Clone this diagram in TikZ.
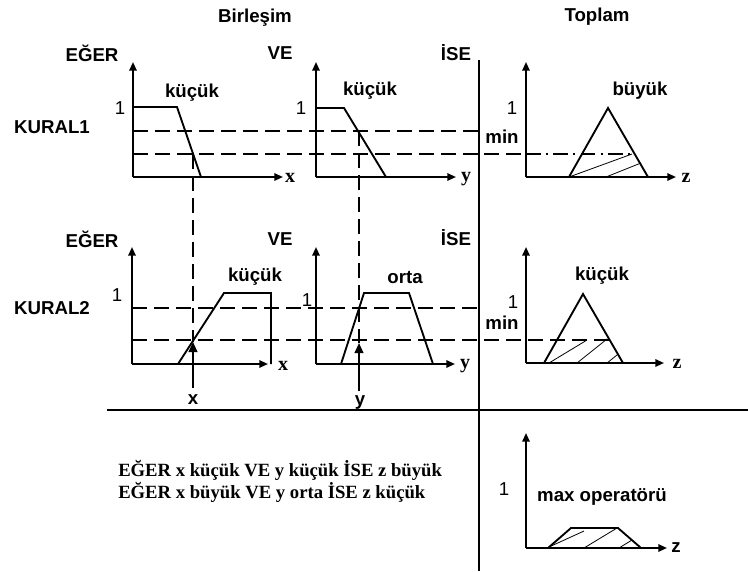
\documentclass[tikz,border=0pt]{standalone}
\usepackage{fontspec}
\setmainfont{Liberation Serif}
\setsansfont{Liberation Sans}
\usetikzlibrary{arrows.meta}
\begin{document}
\begin{tikzpicture}[x=0.75pt,y=-0.75pt,
  axis/.style={line width=1.4pt,-{Triangle[length=6.5pt,width=5.5pt]}},
  varrow/.style={line width=1.4pt,-{Triangle[length=7.5pt,width=6.5pt]}},
  curve/.style={line width=1.4pt, line join=miter},
  dsh/.style={line width=1.3pt, dash pattern=on 11pt off 5.5pt},
  dshdot/.style={line width=1.3pt, dash pattern=on 11pt off 4pt on 1.5pt off 4pt},
  sep/.style={line width=1.5pt},
  hatch/.style={line width=0.6pt},
  lbl/.style={font=\fontsize{14}{16}\selectfont\sffamily\bfseries, inner sep=0pt},
  one/.style={font=\fontsize{14}{16}\selectfont\sffamily, inner sep=0pt},
  ax/.style={font=\fontsize{15}{17}\selectfont\rmfamily\bfseries, inner sep=0pt}
]
\useasboundingbox[fill=white] (0,0) rectangle (748,571);

% headings
\node[lbl] (birlesim) at (255,18) {Birleşim};
\node[lbl] (toplam) at (597,17) {Toplam};
\node[lbl] (eger1) at (92,53) {EĞER};
\node[lbl] (ve1) at (280,53) {VE};
\node[lbl] (ise1) at (456,53) {İSE};
\node[lbl] (kural1) at (52,127) {KURAL1};
\node[lbl] (eger2) at (92,239) {EĞER};
\node[lbl] (ve2) at (280,239) {VE};
\node[lbl] (ise2) at (456,238) {İSE};
\node[lbl] (kural2) at (52,308) {KURAL2};

% separators
\draw[sep] (479,60) -- (479,571);
\draw[sep] (107,410) -- (748,410);

% ---------- Rule 1 ----------
\draw[dsh] (133,131) -- (478,131);
\draw[dsh] (133,154) -- (478,154);
\draw[dsh] (484,154) -- (526,154);
\draw[dshdot] (526,154) -- (634,154);

% x chart
\coordinate (o1) at (133,177);
\draw[axis] (o1) -- (133,62);
\draw[axis] (o1) -- (283,177);
\node[ax] (x1) at (290,178) {x};
\draw[curve] (133,107) -- (177,107) -- (201,177);
\node[lbl] (kucuk1) at (192,93) {küçük};
\node[one] (one1) at (120,108) {1};

% y chart
\coordinate (o2) at (316,177);
\draw[axis] (o2) -- (316,62);
\draw[axis] (o2) -- (456,177);
\node[ax] (y1) at (466,179) {y};
\draw[curve] (316,108) -- (344,108) -- (386,177);
\node[lbl] (kucuk2) at (370,91) {küçük};
\node[one] (one2) at (301,108) {1};

% z chart
\coordinate (o3) at (526,177);
\draw[axis] (o3) -- (526,62);
\draw[axis] (o3) -- (676,177);
\node[ax] (z1) at (686,178) {z};
\draw[curve] (569,177) -- (608,108) -- (648,177);
\draw[hatch] (569,177) -- (632,154);
\draw[hatch] (606,177) -- (641,163);
\node[lbl] (buyuk1) at (640,91) {büyük};
\node[one] (one3) at (512,108) {1};
\node[lbl] (min1) at (502,137) {min};

% ---------- Rule 2 ----------
\draw[dsh] (132,308) -- (478,308);
\draw[dsh] (132,340) -- (478,340);
\draw[dsh] (484,340) -- (610,340);

% x chart
\coordinate (o4) at (132,364);
\draw[axis] (o4) -- (132,247);
\draw[axis] (o4) -- (268,364);
\node[ax] (x2) at (283,366) {x};
\draw[curve] (178,364) -- (224,293) -- (271,293) -- (271,364);
\node[lbl] (kucuk3) at (255,277) {küçük};
\node[one] (one4) at (117,295) {1};

% y chart
\coordinate (o5) at (316,364);
\draw[axis] (o5) -- (316,247);
\draw[axis] (o5) -- (455,364);
\node[ax] (y2) at (465,366) {y};
\draw[curve] (341,364) -- (364,293) -- (409,293) -- (433,364);
\node[lbl] (orta) at (405,277) {orta};
\node[one] (one5) at (307,300) {1};

% z chart
\coordinate (o6) at (526,363);
\draw[axis] (o6) -- (526,247);
\draw[axis] (o6) -- (664,363);
\node[ax] (z2) at (677,364) {z};
\draw[curve] (544,363) -- (583,294) -- (623,363);
\draw[hatch] (549,363) -- (587,340);
\draw[hatch] (577,363) -- (607,339);
\draw[hatch] (607,363) -- (617,355);
\node[lbl] (kucuk4) at (602,276) {küçük};
\node[one] (one6) at (513,302) {1};
\node[lbl] (min2) at (502,323) {min};

% ---------- inputs ----------
\coordinate (xtop) at (193,154);
\coordinate (xtip) at (193,342);
\node[lbl] (xin) at (193,400) {x};
\draw[dsh] (xtop) -- (xtip);
\draw[varrow] (193,388) -- (xtip);

\coordinate (ytop) at (359,131);
\coordinate (ytip) at (359,343);
\node[lbl] (yin) at (360,402) {y};
\draw[dsh] (ytop) -- (ytip);
\draw[varrow] (359,391) -- (ytip);

% ---------- max operator ----------
\coordinate (o7) at (526,548);
\draw[axis] (o7) -- (526,433);
\draw[axis] (o7) -- (667,548);
\node[lbl] (z3) at (676,548) {z};
\draw[curve] (548,548) -- (571,528) -- (618,528) -- (641,548);
\draw[hatch] (549,547) -- (584,531);
\draw[hatch] (584,548) -- (617,528);
\draw[hatch] (619,548) -- (632,540);
\node[one] (one7) at (504,489) {1};
\node[lbl] (maxop) at (602,497) {max operatörü};

% ---------- rules text ----------
\node[anchor=west, align=left, inner sep=0pt, font=\fontsize{14}{16.5}\selectfont\rmfamily\bfseries] (rules) at (118,481)
  {EĞER x küçük VE y küçük İSE z büyük\\EĞER x büyük VE y orta İSE z küçük};
\end{tikzpicture}
\end{document}
